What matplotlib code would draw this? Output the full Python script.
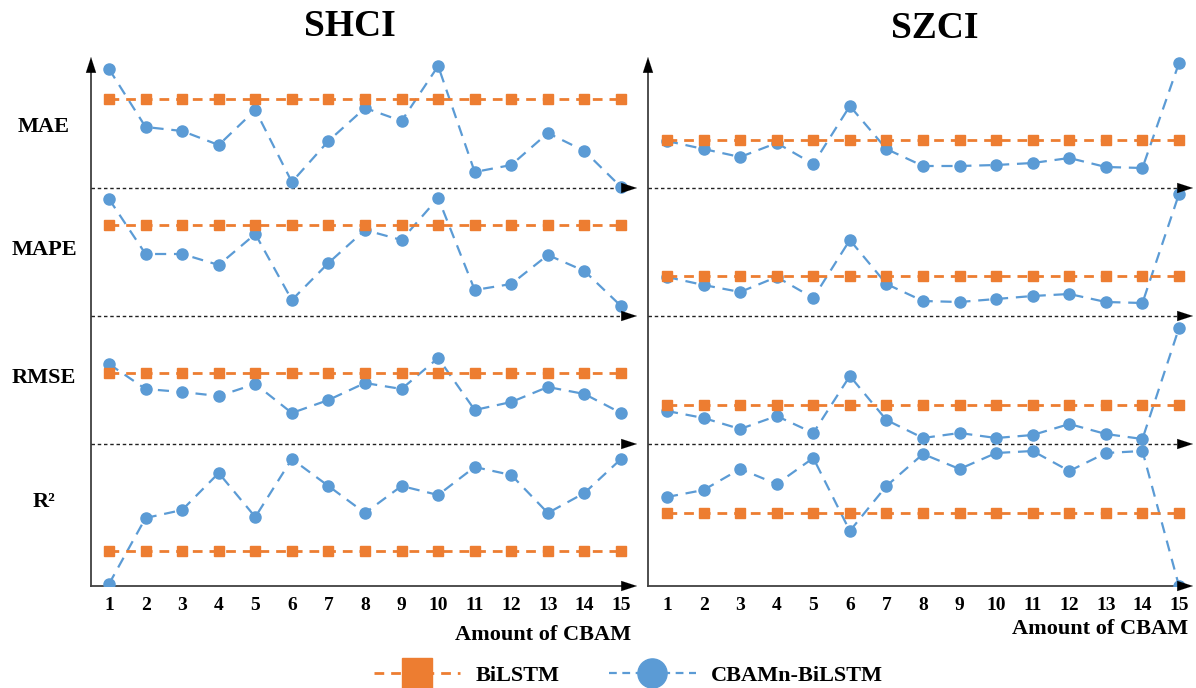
import numpy as np
import matplotlib
matplotlib.use("Agg")
import matplotlib.pyplot as plt
from matplotlib.lines import Line2D

plt.rcParams['font.family'] = ['Liberation Serif', 'DejaVu Serif']
plt.rcParams['font.weight'] = 'bold'

# relative level of each point inside its metric band (no scale in the original)
amount = list(range(1, 16))
metrics = ['MAE', 'MAPE', 'RMSE', 'R²']

shci_mae = [119, 61, 57, 43, 78, 6, 47, 80, 67, 122, 16, 23, 55, 37, 1]
shci_mape = [117, 62, 62, 51, 82, 16, 53, 86, 76, 118, 26, 32, 61, 45, 10]
shci_rmse = [80, 55, 52, 48, 60, 31, 44, 61, 55, 86, 34, 42, 57, 50, 31]
shci_r2 = [2, 68, 76, 113, 69, 127, 100, 73, 100, 91, 119, 111, 73, 93, 127]
shci_bilstm = [89, 91, 71, 35]

szci_mae = [47, 39, 31, 45, 24, 82, 39, 22, 22, 23, 25, 30, 21, 20, 125]
szci_mape = [39, 31, 24, 39, 18, 76, 32, 15, 14, 17, 20, 22, 14, 13, 122]
szci_rmse = [33, 26, 15, 28, 11, 68, 24, 6, 11, 6, 9, 20, 10, 5, 116]
szci_r2 = [89, 96, 117, 102, 128, 55, 100, 132, 117, 133, 135, 115, 133, 135, 0]
szci_bilstm = [48, 40, 39, 73]

band_floor = [398, 270, 142, 0]
top = 529
orange = '#ED7D31'
blue = '#5B9BD5'

fig = plt.figure(figsize=(11.96, 6.88), dpi=100)
W, H = 1196, 688


def head(ax, start, end):
    # black arrow head only, the shaft is drawn separately
    ax.annotate('', xy=end, xytext=start, xycoords='data',
                arrowprops=dict(arrowstyle='-|>,head_length=0.8,head_width=0.26',
                                mutation_scale=14, color='black', lw=0.1,
                                shrinkA=0, shrinkB=0),
                annotation_clip=False)


def panel(left_px, right_px, x0, x1, cbam, bilstm):
    ax = fig.add_axes([left_px / W, 1 - 586 / H, (right_px - left_px) / W, 529 / H])
    ax.set_xlim(x0, x1)
    ax.set_ylim(0, top)
    for s in ax.spines.values():
        s.set_visible(False)
    ax.set_yticks([])
    ax.set_xticks(amount)
    ax.set_xticklabels([str(a) for a in amount], fontsize=14, fontweight='bold')
    ax.tick_params(axis='x', length=0, pad=8)
    for vals, base, lvl in zip(cbam, band_floor, bilstm):
        ax.plot(amount, np.array(vals) + base, color=blue, lw=1.6, dashes=(5, 3.5),
                marker='o', markersize=8, zorder=3)
        ax.plot(amount, np.full(len(amount), lvl) + base, color=orange, lw=2,
                dashes=(3.5, 2.5), marker='s', markersize=7.8, zorder=4)
    # axes drawn as arrows
    ax.plot([x0, x0], [0, top - 8], color='#404040', lw=1.3, clip_on=False)
    head(ax, (x0, top - 14), (x0, top))
    ax.plot([x0, x1 - 0.3], [0, 0], color='#404040', lw=1.3, clip_on=False)
    head(ax, (x1 - 0.4, 0), (x1, 0))
    for base in band_floor[:3]:
        ax.plot([x0, x1 - 0.3], [base, base], color='#222222', lw=1.0,
                dashes=(2.5, 2), zorder=2)
        head(ax, (x1 - 0.4, base), (x1, base))
    return ax


ax1 = panel(91, 637, 1 - 18 / 36.57, 15 + 16 / 36.57,
            [shci_mae, shci_mape, shci_rmse, shci_r2], shci_bilstm)
ax2 = panel(648, 1193, 1 - 19 / 36.57, 15 + 14 / 36.57,
            [szci_mae, szci_mape, szci_rmse, szci_r2], szci_bilstm)

fig.text(350 / W, 1 - 27 / H, 'SHCI', fontsize=27, fontweight='bold', ha='center', va='center')
fig.text(935 / W, 1 - 28 / H, 'SZCI', fontsize=27, fontweight='bold', ha='center', va='center')

label_y = [127, 250, 378, 502]
for name, y in zip(metrics, label_y):
    fig.text(44 / W, 1 - y / H, name, fontsize=16, fontweight='bold', ha='center', va='center')

fig.text(631 / W, 1 - 635 / H, 'Amount of CBAM', fontsize=16, fontweight='bold',
         ha='right', va='center')
fig.text(1188 / W, 1 - 629 / H, 'Amount of CBAM', fontsize=16, fontweight='bold',
         ha='right', va='center')

handles = [Line2D([], [], color=orange, lw=2, dashes=(3.5, 2.5), marker='s', markersize=21),
           Line2D([], [], color=blue, lw=1.6, dashes=(3.5, 2.5), marker='o', markersize=21)]
fig.legend(handles, ['BiLSTM', 'CBAMn-BiLSTM'], loc='center', ncol=2,
           bbox_to_anchor=(0.5255, 1 - 676 / H), frameon=False,
           handlelength=3.9, handletextpad=0.7, columnspacing=2.2,
           prop={'weight': 'bold', 'size': 16})

fig.savefig('out.png', dpi=100, facecolor='white')
